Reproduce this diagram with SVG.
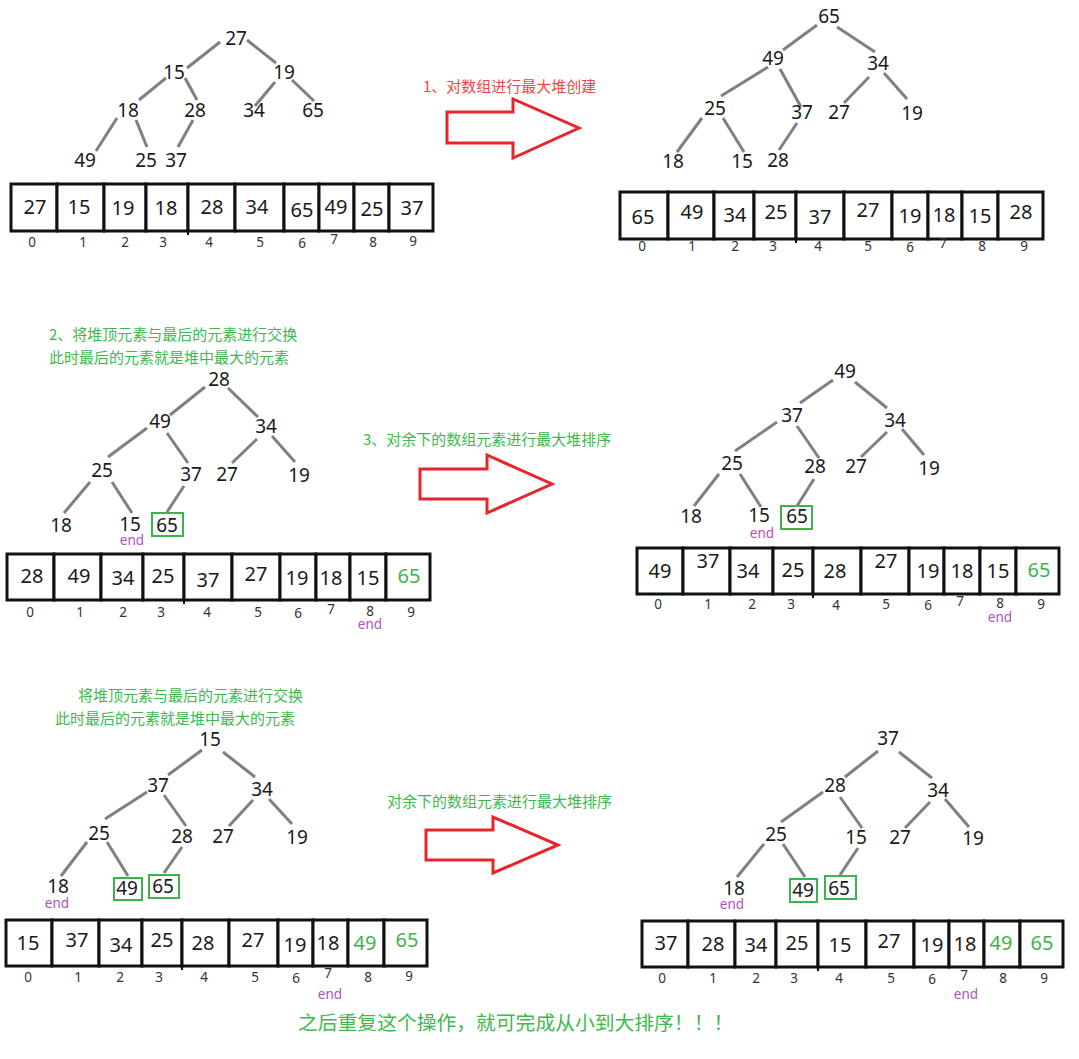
<svg xmlns="http://www.w3.org/2000/svg" width="1079" height="1059" viewBox="0 0 1079 1059">
<style>
text{font-family:"Noto Sans","Noto Sans CJK SC",sans-serif}
.t{font-size:19px;fill:#1a1a1a;text-anchor:middle}
.c{font-size:20px;fill:#1a1a1a;text-anchor:middle}
.g{fill:#3cb44b}
.i{font-size:13.5px;fill:#333;text-anchor:middle}
.e{font-size:13.5px;fill:#b050c0;text-anchor:middle}
.cell{fill:#fff;stroke:#111;stroke-width:3}
.box{fill:none;stroke:#3cb44b;stroke-width:2}
.edge{stroke:#808080;stroke-width:3;fill:none}
.arrow{fill:#fff;stroke:#e8262a;stroke-width:3}
.note{font-family:"Noto Sans CJK SC",sans-serif;font-size:15px}
.red{fill:#f04646}
.grn{fill:#3dba4e}
</style>
<rect width="1079" height="1059" fill="#fff"/>

<g id="connectors">
<!-- panel 1 -->
<line class="edge" x1="220" y1="42" x2="187" y2="68"/>
<line class="edge" x1="247" y1="40" x2="276" y2="63"/>
<line class="edge" x1="166" y1="78" x2="139" y2="100"/>
<line class="edge" x1="185" y1="78" x2="197" y2="100"/>
<line class="edge" x1="275" y1="82" x2="255" y2="106"/>
<line class="edge" x1="292" y1="80" x2="314" y2="101"/>
<line class="edge" x1="117" y1="118" x2="96" y2="151"/>
<line class="edge" x1="136" y1="120" x2="147" y2="147"/>
<line class="edge" x1="193" y1="120" x2="178" y2="147"/>
<!-- panel 2 -->
<line class="edge" x1="817" y1="25" x2="783" y2="50"/>
<line class="edge" x1="837" y1="27" x2="875" y2="52"/>
<line class="edge" x1="768" y1="67" x2="721" y2="96"/>
<line class="edge" x1="780" y1="69" x2="801" y2="107"/>
<line class="edge" x1="869" y1="77" x2="844" y2="103"/>
<line class="edge" x1="884" y1="73" x2="907" y2="99"/>
<line class="edge" x1="702" y1="118" x2="677" y2="152"/>
<line class="edge" x1="723" y1="118" x2="744" y2="152"/>
<line class="edge" x1="797" y1="123" x2="779" y2="150"/>
<!-- panel 3 -->
<line class="edge" x1="205" y1="387" x2="170" y2="415"/>
<line class="edge" x1="228" y1="388" x2="258" y2="417"/>
<line class="edge" x1="147" y1="428" x2="108" y2="457"/>
<line class="edge" x1="167" y1="433" x2="188" y2="463"/>
<line class="edge" x1="257" y1="439" x2="232" y2="463"/>
<line class="edge" x1="272" y1="436" x2="295" y2="462"/>
<line class="edge" x1="90" y1="482" x2="64" y2="513"/>
<line class="edge" x1="112" y1="482" x2="132" y2="513"/>
<line class="edge" x1="184" y1="486" x2="167" y2="512"/>
<!-- panel 4 -->
<line class="edge" x1="833" y1="380" x2="800" y2="403"/>
<line class="edge" x1="855" y1="382" x2="887" y2="408"/>
<line class="edge" x1="777" y1="422" x2="735" y2="451"/>
<line class="edge" x1="797" y1="426" x2="819" y2="458"/>
<line class="edge" x1="887" y1="432" x2="861" y2="457"/>
<line class="edge" x1="902" y1="429" x2="924" y2="455"/>
<line class="edge" x1="719" y1="474" x2="694" y2="506"/>
<line class="edge" x1="740" y1="474" x2="761" y2="507"/>
<line class="edge" x1="814" y1="479" x2="797" y2="506"/>
<!-- panel 5 -->
<line class="edge" x1="202" y1="750" x2="168" y2="775"/>
<line class="edge" x1="223" y1="752" x2="255" y2="777"/>
<line class="edge" x1="147" y1="792" x2="105" y2="819"/>
<line class="edge" x1="164" y1="795" x2="186" y2="826"/>
<line class="edge" x1="253" y1="800" x2="229" y2="826"/>
<line class="edge" x1="269" y1="799" x2="292" y2="824"/>
<line class="edge" x1="87" y1="842" x2="61" y2="876"/>
<line class="edge" x1="107" y1="842" x2="128" y2="876"/>
<line class="edge" x1="182" y1="847" x2="164" y2="873"/>
<!-- panel 6 -->
<line class="edge" x1="878" y1="751" x2="845" y2="777"/>
<line class="edge" x1="899" y1="752" x2="932" y2="778"/>
<line class="edge" x1="823" y1="792" x2="781" y2="822"/>
<line class="edge" x1="840" y1="797" x2="862" y2="828"/>
<line class="edge" x1="930" y1="802" x2="905" y2="828"/>
<line class="edge" x1="945" y1="799" x2="969" y2="827"/>
<line class="edge" x1="764" y1="844" x2="737" y2="877"/>
<line class="edge" x1="783" y1="844" x2="805" y2="877"/>
<line class="edge" x1="858" y1="848" x2="840" y2="875"/>
</g>

<!-- big arrows -->
<g id="arrow1">
<polygon class="arrow" points="447,112 513,112 513,99 579,128 513,158 513,143 447,143"/>
<text class="note red" x="423" y="92">1、对数组进行最大堆创建</text>
</g>
<g id="arrow2">
<polygon class="arrow" points="420,469 487,469 487,455 552,484 487,513 487,499 420,499"/>
<text class="note grn" x="363" y="445">3、对余下的数组元素进行最大堆排序</text>
</g>
<g id="arrow3">
<polygon class="arrow" points="426,830 493,830 493,817 558,845 493,873 493,860 426,860"/>
<text class="note grn" x="387" y="807">对余下的数组元素进行最大堆排序</text>
</g>

<!-- notes -->
<g id="note2">
<text class="note grn" x="49" y="340" font-size="15.5">2、将堆顶元素与最后的元素进行交换</text>
<text class="note grn" x="49" y="363" font-size="15.5">此时最后的元素就是堆中最大的元素</text>
</g>
<g id="note3">
<text class="note grn" x="78" y="701">将堆顶元素与最后的元素进行交换</text>
<text class="note grn" x="55" y="724">此时最后的元素就是堆中最大的元素</text>
</g>
<g id="final-note">
<text class="note grn" x="298" y="1030" style="font-size:19.8px">之后重复这个操作，就可完成从小到大排序！！！</text>
</g>

<!-- ===== Panel 1 tree ===== -->
<g id="p1-tree">
<g id="p1-n27"><text class="t" x="236" y="45">27</text></g>
<g id="p1-n15"><text class="t" x="174" y="79">15</text></g>
<g id="p1-n19"><text class="t" x="284" y="79">19</text></g>
<g id="p1-n18"><text class="t" x="128" y="117">18</text></g>
<g id="p1-n28"><text class="t" x="195" y="117">28</text></g>
<g id="p1-n34"><text class="t" x="254" y="117">34</text></g>
<g id="p1-n65"><text class="t" x="313" y="117">65</text></g>
<g id="p1-n49"><text class="t" x="85" y="167">49</text></g>
<g id="p1-n25"><text class="t" x="146" y="167">25</text></g>
<g id="p1-n37"><text class="t" x="176" y="167">37</text></g>
</g>
<g id="p1-array">
<g id="p1-c0"><rect class="cell" x="11" y="184" width="46" height="47"/><text class="c" x="35" y="214">27</text></g>
<g id="p1-c1"><rect class="cell" x="57" y="184" width="47" height="47"/><text class="c" x="79" y="214">15</text></g>
<g id="p1-c2"><rect class="cell" x="104" y="184" width="42" height="47"/><text class="c" x="123" y="215">19</text></g>
<g id="p1-c3"><rect class="cell" x="146" y="184" width="42" height="47"/><text class="c" x="166" y="215">18</text></g>
<g id="p1-c4"><rect class="cell" x="188" y="184" width="47" height="47"/><text class="c" x="212" y="214">28</text></g>
<g id="p1-c5"><rect class="cell" x="235" y="184" width="49" height="47"/><text class="c" x="257" y="214">34</text></g>
<g id="p1-c6"><rect class="cell" x="284" y="184" width="35" height="47"/><text class="c" x="302" y="217">65</text></g>
<g id="p1-c7"><rect class="cell" x="319" y="184" width="35" height="47"/><text class="c" x="336" y="214">49</text></g>
<g id="p1-c8"><rect class="cell" x="354" y="184" width="35" height="47"/><text class="c" x="372" y="216">25</text></g>
<g id="p1-c9"><rect class="cell" x="389" y="184" width="44" height="47"/><text class="c" x="412" y="215">37</text></g>
<line x1="188" y1="231" x2="188" y2="235" stroke="#111" stroke-width="2"/>
<text class="i" x="32" y="247">0</text><text class="i" x="83" y="247">1</text><text class="i" x="125" y="247">2</text><text class="i" x="163" y="247">3</text><text class="i" x="209" y="247">4</text><text class="i" x="260" y="247">5</text><text class="i" x="302" y="248">6</text><text class="i" x="334" y="244">7</text><text class="i" x="373" y="247">8</text><text class="i" x="413" y="246">9</text>
</g>

<!-- ===== Panel 2 tree ===== -->
<g id="p2-tree">
<g id="p2-n65"><text class="t" x="829" y="23">65</text></g>
<g id="p2-n49"><text class="t" x="773" y="65">49</text></g>
<g id="p2-n34"><text class="t" x="878" y="70">34</text></g>
<g id="p2-n25"><text class="t" x="715" y="115">25</text></g>
<g id="p2-n37"><text class="t" x="802" y="119">37</text></g>
<g id="p2-n27"><text class="t" x="839" y="119">27</text></g>
<g id="p2-n19"><text class="t" x="912" y="120">19</text></g>
<g id="p2-n18"><text class="t" x="673" y="168">18</text></g>
<g id="p2-n15"><text class="t" x="742" y="168">15</text></g>
<g id="p2-n28"><text class="t" x="778" y="167">28</text></g>
</g>
<g id="p2-array">
<g id="p2-c0"><rect class="cell" x="620" y="192" width="48" height="47"/><text class="c" x="643" y="224">65</text></g>
<g id="p2-c1"><rect class="cell" x="668" y="192" width="46" height="47"/><text class="c" x="692" y="219">49</text></g>
<g id="p2-c2"><rect class="cell" x="714" y="192" width="40" height="47"/><text class="c" x="735" y="222">34</text></g>
<g id="p2-c3"><rect class="cell" x="754" y="192" width="42" height="47"/><text class="c" x="776" y="219">25</text></g>
<g id="p2-c4"><rect class="cell" x="796" y="192" width="48" height="47"/><text class="c" x="820" y="224">37</text></g>
<g id="p2-c5"><rect class="cell" x="844" y="192" width="48" height="47"/><text class="c" x="868" y="217">27</text></g>
<g id="p2-c6"><rect class="cell" x="892" y="192" width="36" height="47"/><text class="c" x="910" y="223">19</text></g>
<g id="p2-c7"><rect class="cell" x="928" y="192" width="34" height="47"/><text class="c" x="944" y="222">18</text></g>
<g id="p2-c8"><rect class="cell" x="962" y="192" width="36" height="47"/><text class="c" x="980" y="223">15</text></g>
<g id="p2-c9"><rect class="cell" x="998" y="192" width="45" height="47"/><text class="c" x="1021" y="219">28</text></g>
<line x1="796" y1="239" x2="796" y2="243" stroke="#111" stroke-width="2"/>
<text class="i" x="642" y="251">0</text><text class="i" x="692" y="251">1</text><text class="i" x="735" y="251">2</text><text class="i" x="773" y="251">3</text><text class="i" x="818" y="251">4</text><text class="i" x="868" y="251">5</text><text class="i" x="910" y="252">6</text><text class="i" x="943" y="248">7</text><text class="i" x="982" y="251">8</text><text class="i" x="1024" y="251">9</text>
</g>

<!-- ===== Panel 3 ===== -->
<g id="p3-tree">
<g id="p3-n28"><text class="t" x="219" y="386">28</text></g>
<g id="p3-n49"><text class="t" x="160" y="428">49</text></g>
<g id="p3-n34"><text class="t" x="266" y="433">34</text></g>
<g id="p3-n25"><text class="t" x="102" y="477">25</text></g>
<g id="p3-n37"><text class="t" x="191" y="481">37</text></g>
<g id="p3-n27"><text class="t" x="227" y="481">27</text></g>
<g id="p3-n19"><text class="t" x="299" y="482">19</text></g>
<g id="p3-n18"><text class="t" x="61" y="532">18</text></g>
<g id="p3-n15"><text class="t" x="130" y="531">15</text><text class="e" x="132" y="545">end</text></g>
<g id="p3-n65"><rect class="box" x="152" y="513" width="31" height="23"/><text class="t" x="167" y="532">65</text></g>
</g>
<g id="p3-array">
<g id="p3-c0"><rect class="cell" x="7" y="554" width="47" height="46"/><text class="c" x="32" y="583">28</text></g>
<g id="p3-c1"><rect class="cell" x="54" y="554" width="47" height="46"/><text class="c" x="79" y="583">49</text></g>
<g id="p3-c2"><rect class="cell" x="101" y="554" width="42" height="46"/><text class="c" x="123" y="585">34</text></g>
<g id="p3-c3"><rect class="cell" x="143" y="554" width="41" height="46"/><text class="c" x="163" y="583">25</text></g>
<g id="p3-c4"><rect class="cell" x="184" y="554" width="48" height="46"/><text class="c" x="208" y="587">37</text></g>
<g id="p3-c5"><rect class="cell" x="232" y="554" width="48" height="46"/><text class="c" x="256" y="581">27</text></g>
<g id="p3-c6"><rect class="cell" x="280" y="554" width="36" height="46"/><text class="c" x="297" y="585">19</text></g>
<g id="p3-c7"><rect class="cell" x="316" y="554" width="34" height="46"/><text class="c" x="331" y="585">18</text></g>
<g id="p3-c8"><rect class="cell" x="350" y="554" width="36" height="46"/><text class="c" x="368" y="585">15</text></g>
<g id="p3-c9"><rect class="cell" x="386" y="554" width="44" height="46"/><text class="c g" x="409" y="583">65</text></g>
<line x1="184" y1="600" x2="184" y2="604" stroke="#111" stroke-width="2"/>
<text class="i" x="30" y="617">0</text><text class="i" x="80" y="617">1</text><text class="i" x="123" y="617">2</text><text class="i" x="161" y="617">3</text><text class="i" x="207" y="617">4</text><text class="i" x="258" y="617">5</text><text class="i" x="298" y="618">6</text><text class="i" x="331" y="614">7</text><text class="i" x="370" y="616">8</text><text class="i" x="411" y="617">9</text>
<text class="e" x="370" y="629">end</text>
</g>

<!-- ===== Panel 4 ===== -->
<g id="p4-tree">
<g id="p4-n49"><text class="t" x="845" y="378">49</text></g>
<g id="p4-n37"><text class="t" x="792" y="422">37</text></g>
<g id="p4-n34"><text class="t" x="895" y="427">34</text></g>
<g id="p4-n25"><text class="t" x="732" y="470">25</text></g>
<g id="p4-n28"><text class="t" x="815" y="473">28</text></g>
<g id="p4-n27"><text class="t" x="856" y="473">27</text></g>
<g id="p4-n19"><text class="t" x="929" y="475">19</text></g>
<g id="p4-n18"><text class="t" x="691" y="523">18</text></g>
<g id="p4-n15"><text class="t" x="759" y="522">15</text><text class="e" x="762" y="538">end</text></g>
<g id="p4-n65"><rect class="box" x="781" y="506" width="31" height="23"/><text class="t" x="797" y="523">65</text></g>
</g>
<g id="p4-array">
<g id="p4-c0"><rect class="cell" x="637" y="548" width="46" height="46"/><text class="c" x="660" y="578">49</text></g>
<g id="p4-c1"><rect class="cell" x="683" y="548" width="47" height="46"/><text class="c" x="708" y="568">37</text></g>
<g id="p4-c2"><rect class="cell" x="730" y="548" width="43" height="46"/><text class="c" x="748" y="578">34</text></g>
<g id="p4-c3"><rect class="cell" x="773" y="548" width="40" height="46"/><text class="c" x="793" y="577">25</text></g>
<g id="p4-c4"><rect class="cell" x="813" y="548" width="48" height="46"/><text class="c" x="835" y="578">28</text></g>
<g id="p4-c5"><rect class="cell" x="861" y="548" width="48" height="46"/><text class="c" x="886" y="568">27</text></g>
<g id="p4-c6"><rect class="cell" x="909" y="548" width="35" height="46"/><text class="c" x="928" y="578">19</text></g>
<g id="p4-c7"><rect class="cell" x="944" y="548" width="36" height="46"/><text class="c" x="962" y="578">18</text></g>
<g id="p4-c8"><rect class="cell" x="980" y="548" width="36" height="46"/><text class="c" x="998" y="578">15</text></g>
<g id="p4-c9"><rect class="cell" x="1016" y="548" width="43" height="46"/><text class="c g" x="1039" y="577">65</text></g>
<line x1="813" y1="594" x2="813" y2="598" stroke="#111" stroke-width="2"/>
<text class="i" x="658" y="609">0</text><text class="i" x="708" y="609">1</text><text class="i" x="752" y="609">2</text><text class="i" x="791" y="609">3</text><text class="i" x="836" y="610">4</text><text class="i" x="886" y="609">5</text><text class="i" x="928" y="610">6</text><text class="i" x="960" y="606">7</text><text class="i" x="1000" y="608">8</text><text class="i" x="1041" y="609">9</text>
<text class="e" x="1000" y="622">end</text>
</g>

<!-- ===== Panel 5 ===== -->
<g id="p5-tree">
<g id="p5-n15"><text class="t" x="210" y="746">15</text></g>
<g id="p5-n37"><text class="t" x="158" y="792">37</text></g>
<g id="p5-n34"><text class="t" x="262" y="796">34</text></g>
<g id="p5-n25"><text class="t" x="99" y="840">25</text></g>
<g id="p5-n28"><text class="t" x="182" y="843">28</text></g>
<g id="p5-n27"><text class="t" x="223" y="843">27</text></g>
<g id="p5-n19"><text class="t" x="297" y="844">19</text></g>
<g id="p5-n18"><text class="t" x="58" y="893">18</text><text class="e" x="57" y="908">end</text></g>
<g id="p5-n49"><rect class="box" x="114" y="878" width="28" height="22"/><text class="t" x="127" y="895">49</text></g>
<g id="p5-n65"><rect class="box" x="149" y="875" width="30" height="23"/><text class="t" x="163" y="893">65</text></g>
</g>
<g id="p5-array">
<g id="p5-c0"><rect class="cell" x="6" y="920" width="46" height="46"/><text class="c" x="28" y="950">15</text></g>
<g id="p5-c1"><rect class="cell" x="52" y="920" width="47" height="46"/><text class="c" x="77" y="947">37</text></g>
<g id="p5-c2"><rect class="cell" x="99" y="920" width="43" height="46"/><text class="c" x="121" y="952">34</text></g>
<g id="p5-c3"><rect class="cell" x="142" y="920" width="40" height="46"/><text class="c" x="162" y="947">25</text></g>
<g id="p5-c4"><rect class="cell" x="182" y="920" width="47" height="46"/><text class="c" x="203" y="950">28</text></g>
<g id="p5-c5"><rect class="cell" x="229" y="920" width="49" height="46"/><text class="c" x="253" y="947">27</text></g>
<g id="p5-c6"><rect class="cell" x="278" y="920" width="35" height="46"/><text class="c" x="295" y="952">19</text></g>
<g id="p5-c7"><rect class="cell" x="313" y="920" width="35" height="46"/><text class="c" x="328" y="950">18</text></g>
<g id="p5-c8"><rect class="cell" x="348" y="920" width="36" height="46"/><text class="c g" x="365" y="950">49</text></g>
<g id="p5-c9"><rect class="cell" x="384" y="920" width="43" height="46"/><text class="c g" x="407" y="947">65</text></g>
<line x1="182" y1="966" x2="182" y2="970" stroke="#111" stroke-width="2"/>
<text class="i" x="28" y="982">0</text><text class="i" x="78" y="982">1</text><text class="i" x="120" y="982">2</text><text class="i" x="159" y="982">3</text><text class="i" x="204" y="982">4</text><text class="i" x="255" y="982">5</text><text class="i" x="296" y="983">6</text><text class="i" x="328" y="978">7</text><text class="i" x="368" y="982">8</text><text class="i" x="409" y="981">9</text>
<text class="e" x="330" y="999">end</text>
</g>

<!-- ===== Panel 6 ===== -->
<g id="p6-tree">
<g id="p6-n37"><text class="t" x="888" y="745">37</text></g>
<g id="p6-n28"><text class="t" x="835" y="792">28</text></g>
<g id="p6-n34"><text class="t" x="938" y="797">34</text></g>
<g id="p6-n25"><text class="t" x="776" y="841">25</text></g>
<g id="p6-n15"><text class="t" x="856" y="844">15</text></g>
<g id="p6-n27"><text class="t" x="900" y="844">27</text></g>
<g id="p6-n19"><text class="t" x="973" y="845">19</text></g>
<g id="p6-n18"><text class="t" x="734" y="895">18</text><text class="e" x="732" y="909">end</text></g>
<g id="p6-n49"><rect class="box" x="790" y="879" width="27" height="23"/><text class="t" x="803" y="897">49</text></g>
<g id="p6-n65"><rect class="box" x="825" y="876" width="31" height="23"/><text class="t" x="839" y="895">65</text></g>
</g>
<g id="p6-array">
<g id="p6-c0"><rect class="cell" x="642" y="921" width="46" height="46"/><text class="c" x="666" y="950">37</text></g>
<g id="p6-c1"><rect class="cell" x="688" y="921" width="47" height="46"/><text class="c" x="713" y="951">28</text></g>
<g id="p6-c2"><rect class="cell" x="735" y="921" width="41" height="46"/><text class="c" x="756" y="952">34</text></g>
<g id="p6-c3"><rect class="cell" x="776" y="921" width="42" height="46"/><text class="c" x="797" y="950">25</text></g>
<g id="p6-c4"><rect class="cell" x="818" y="921" width="48" height="46"/><text class="c" x="840" y="952">15</text></g>
<g id="p6-c5"><rect class="cell" x="866" y="921" width="48" height="46"/><text class="c" x="889" y="948">27</text></g>
<g id="p6-c6"><rect class="cell" x="914" y="921" width="35" height="46"/><text class="c" x="932" y="952">19</text></g>
<g id="p6-c7"><rect class="cell" x="949" y="921" width="35" height="46"/><text class="c" x="965" y="951">18</text></g>
<g id="p6-c8"><rect class="cell" x="984" y="921" width="36" height="46"/><text class="c g" x="1001" y="950">49</text></g>
<g id="p6-c9"><rect class="cell" x="1020" y="921" width="43" height="46"/><text class="c g" x="1042" y="950">65</text></g>
<line x1="818" y1="967" x2="818" y2="971" stroke="#111" stroke-width="2"/>
<text class="i" x="662" y="983">0</text><text class="i" x="713" y="983">1</text><text class="i" x="756" y="983">2</text><text class="i" x="794" y="983">3</text><text class="i" x="839" y="983">4</text><text class="i" x="891" y="983">5</text><text class="i" x="932" y="984">6</text><text class="i" x="964" y="980">7</text><text class="i" x="1003" y="983">8</text><text class="i" x="1044" y="983">9</text>
<text class="e" x="966" y="999">end</text>
</g>
</svg>
